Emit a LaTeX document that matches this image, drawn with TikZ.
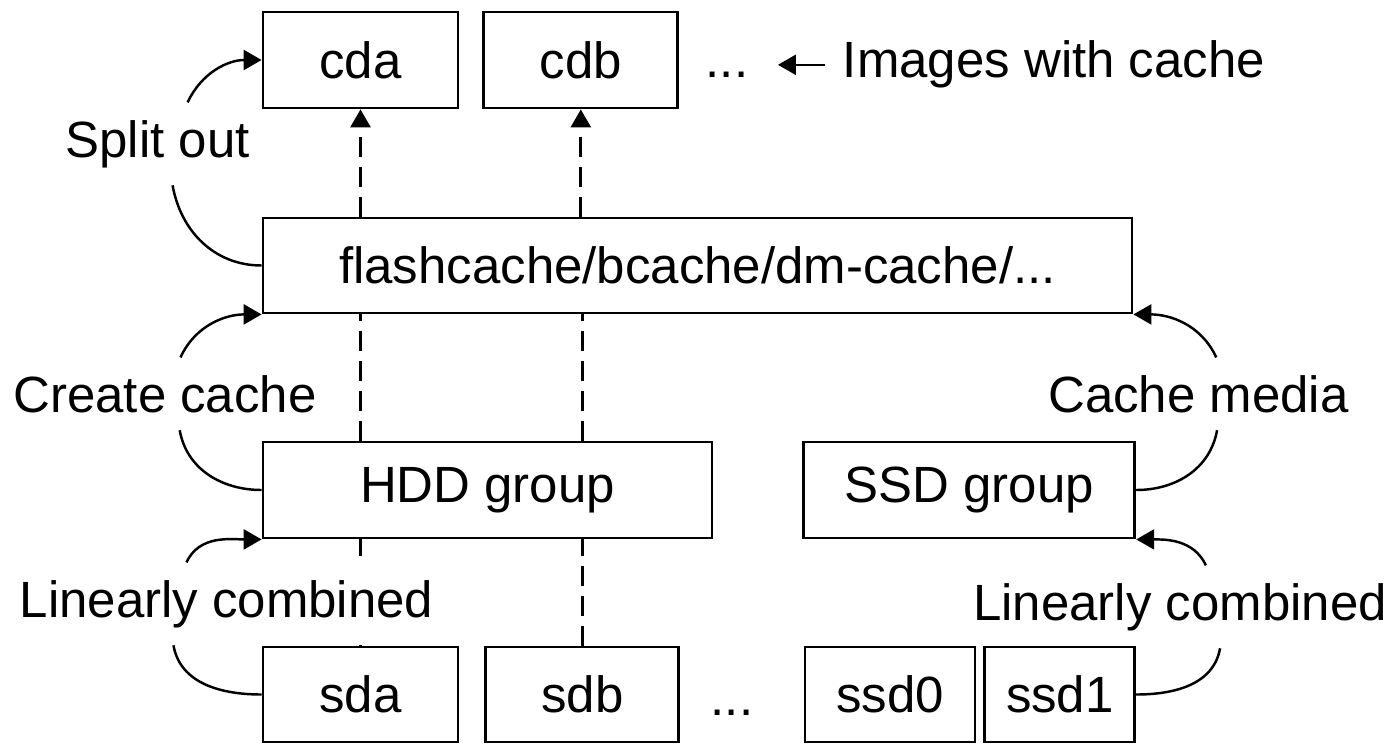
\documentclass[tikz,border=0pt]{standalone}
\usepackage{fontspec}
\setmainfont{Liberation Sans}
\usetikzlibrary{arrows.meta, positioning}

\begin{document}
\begin{tikzpicture}[
    % 1. styles
    >={Triangle[length=1.8mm, width=2mm]},
    disk/.style={draw, line width=0.8pt, rectangle, minimum width=1.95cm, minimum height=0.96cm, inner sep=0pt, font=\fontsize{14.5}{17}\selectfont},
    note/.style={inner sep=1.7mm, font=\fontsize{14.5}{17}\selectfont},
    link/.style={->, line width=0.8pt, dash pattern=on 2mm off 1mm},
    plain/.style={line width=0.8pt, dash pattern=on 2mm off 1mm},
    curvy/.style={line width=0.7pt}
]
    \useasboundingbox (0,0) rectangle (13.95,7.44);

    % =================================================================
    % I. images with cache (top row)
    % =================================================================
    \node[disk] (cda) at (3.605, 6.84) {cda};
    \node[disk, minimum width=1.94cm] (cdb) [right=0.23cm of cda] {cdb};
    \node[note, anchor=base] (topdots) at (7.27, 6.66) {...};
    \node[note, anchor=base] (imgs) at (10.54, 6.66) {Images with cache};

    % =================================================================
    % II. cache layer and device groups
    % =================================================================
    \node[disk, minimum width=8.69cm, minimum height=0.95cm] (flash) at (6.975, 4.785) {flashcache/bcache/dm-cache/...};
    \node[disk, minimum width=4.49cm] (hdd) at (4.875, 2.54) {HDD group};
    \node[disk, minimum width=3.31cm] (ssd) [right=0.89cm of hdd] {SSD group};

    % =================================================================
    % III. physical devices
    % =================================================================
    \node[disk, minimum height=0.95cm] (sda) at (3.605, 0.495) {sda};
    \node[disk, minimum width=1.93cm, minimum height=0.95cm] (sdb) [right=0.25cm of sda] {sdb};
    \node[note, anchor=base] (botdots) at (7.32, 0.29) {...};
    \node[disk, minimum width=1.70cm, minimum height=0.95cm] (ssd0) at (8.90, 0.495) {ssd0};
    \node[disk, minimum width=1.50cm, minimum height=0.95cm] (ssd1) [right=0.07cm of ssd0] {ssd1};

    % dashed paths from disks up to cached images
    \foreach \lo/\hi in {sda/cda, sdb/cdb} {
        \draw[plain] (\lo.north) -- (\lo.north |- hdd.south);
        \draw[plain] (\lo.north |- hdd.north) -- (\lo.north |- flash.south);
        \draw[link] (\hi.south |- flash.north) -- (\hi.south);
    }

    % =================================================================
    % IV. step labels
    % =================================================================
    \node[note, anchor=base] (split) at (1.575, 5.87) {Split out};
    \node[note, anchor=base] (create) at (1.65, 3.32) {Create cache};
    \node[note, fill=white, anchor=base] (linl) at (2.265, 1.27) {Linearly combined};
    \node[note, anchor=base] (media) at (11.985, 3.32) {Cache media};
    \node[note, anchor=base] (linr) at (11.80, 1.24) {Linearly combined};

    \draw[curvy, ->] (split.54) to[out=65, in=180] (cda.west);
    \draw[curvy] (flash.west) to[out=180, in=-80] (split.-70);
    \draw[curvy, ->] (create.67) to[out=65, in=180] (flash.south west);
    \draw[curvy] (hdd.west) to[out=180, in=-80] (create.-68);
    \draw[curvy, ->] (linl.134) to[out=65, in=180] (hdd.south west);
    \draw[curvy] (sda.west) to[out=180, in=-80] (linl.-142);
    \draw[curvy, ->] (media.64) to[out=115, in=0] (flash.south east);
    \draw[curvy] (ssd.east) to[out=0, in=-100] (media.-63);
    \draw[curvy, ->] (linr.58) to[out=115, in=0] (ssd.south east);
    \draw[curvy] (ssd1.east) to[out=0, in=-100] (linr.-46);

    \draw[curvy, ->, shorten >=1.2mm] (imgs.west) -- (imgs.west -| topdots.east);

\end{tikzpicture}
\end{document}
